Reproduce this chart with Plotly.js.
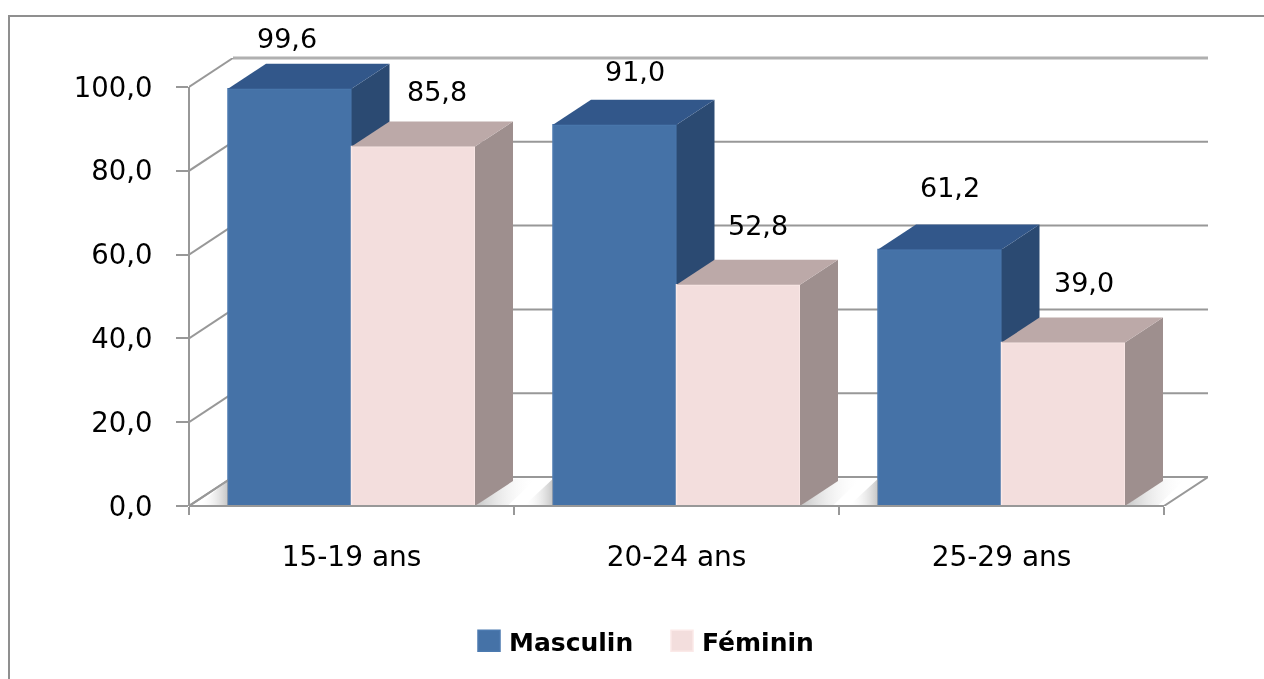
<!DOCTYPE html>
<html><head><meta charset="utf-8">
<script src="https://cdn.plot.ly/plotly-3.0.1.min.js"></script>
<style>html,body{margin:0;padding:0;background:#fff;overflow:hidden}#c{width:1264px;height:679px}.main-svg{filter:blur(.45px)}</style>
</head><body><div id="c"></div>
<script>
const categories=['15-19 ans','20-24 ans','25-29 ans'];
const masculin=[99.6,91.0,61.2];
const feminin=[85.8,52.8,39.0];
const yTicks=[0,20,40,60,80,100];
// styling and geometry, in axis units
const FONT='"DejaVu Sans", sans-serif';
const GRID='#989898';
const plotL=189,plotR=1208,plotT=58,plotB=506;
const catW=325,unitPx=4.19;
const xMin=-0.5,xMax=xMin+(plotR-plotL)/catW;
const yMax=(plotB-plotT)/unitPx;
const wallDx=44/catW,wallDy=29/unitPx;
const barW=0.38,barDx=38/catW,barDy=25/unitPx;
const mColors={front:'#4572A7',edge:'#4C7AB0',top:'#32578A',side:'#2B4A72'};
const fColors={front:'#F3DEDD',edge:'#FBE9E8',top:'#BCA9A8',side:'#9E8F8E'};
const labelDx=[[-3,20,10],[24,20,21]];
const labelDy=[[-50,-53,-62],[-55,-59,-60]];
const fmt=v=>v.toFixed(1).replace('.',',');

function frontBar(name,vals,offset,c,xa){
  return {type:'bar',name,x:categories,y:vals,width:barW,offset,xaxis:xa,yaxis:'y',
    marker:{color:c.front,line:{color:c.edge,width:1.5}},hoverinfo:'skip'};
}
function poly(xs,ys,color,xa){
  return {type:'scatter',mode:'lines',x:xs,y:ys,fill:'toself',fillcolor:color,
    line:{width:0,color:color},xaxis:xa,yaxis:'y',showlegend:false,hoverinfo:'skip'};
}
function faces(vals,offset,c,xa){
  const out=[];
  vals.forEach((v,i)=>{
    const x0=i+offset,x1=x0+barW;
    out.push(poly([x1,x1+barDx,x1+barDx,x1,x1],[0,barDy,v+barDy,v,0],c.side,xa));
    out.push(poly([x0,x0+barDx,x1+barDx,x1,x0],[v,v+barDy,v+barDy,v,v],c.top,xa));
  });
  return out;
}
function shadow(xs,ys,fadeRight){
  const dark='rgba(150,150,150,0.55)',clear='rgba(255,255,255,0)';
  return {type:'scatter',mode:'lines',x:xs,y:ys,fill:'toself',line:{width:0},xaxis:'x2',yaxis:'y',
    showlegend:false,hoverinfo:'skip',
    fillgradient:{type:'horizontal',colorscale:fadeRight?[[0,dark],[1,clear]]:[[0,clear],[1,dark]]}};
}
const shadows=[];
categories.forEach((c,i)=>{
  const xL=i-barW, xR=i+barW;
  shadows.push(shadow([xL-0.09,xL,xL,xL-0.09],[0,0,wallDy-0.4,0],false));
  shadows.push(shadow([xR,xR+0.1,xR+barDx+0.07,xR+barDx,xR],[0,0,wallDy-0.4,wallDy-0.4,0],true));
});
const traces=[
  frontBar('Masculin',masculin,-barW,mColors,'x'),
  ...shadows,
  ...faces(masculin,-barW,mColors,'x2'),
  frontBar('Féminin',feminin,0,fColors,'x3'),
  ...faces(feminin,0,fColors,'x4')
];

const shapes=[];
const pxX=p=>(p-plotL)/(plotR-plotL), pxY=p=>(plotB-p)/(plotB-plotT);
// chart frame
shapes.push({type:'path',xref:'paper',yref:'paper',layer:'below',
  path:`M${pxX(1270)},${pxY(16)}L${pxX(9)},${pxY(16)}L${pxX(9)},${pxY(690)}`,line:{color:'#8f8f8f',width:2}});
// floor
const gl={color:GRID,width:2};
shapes.push({type:'path',xref:'x2',yref:'y',layer:'below',fillcolor:'#ffffff',line:gl,
  path:`M${xMin},0L${xMin+wallDx},${wallDy}L${xMax},${wallDy}L${xMax-wallDx},0Z`});
// back wall grid and left wall diagonals
yTicks.forEach(t=>{
  if(t>0&&t<100) shapes.push({type:'line',xref:'x2',yref:'y',layer:'below',x0:xMin+wallDx,x1:xMax,y0:t+wallDy,y1:t+wallDy,line:gl});
  shapes.push({type:'line',xref:'x2',yref:'y',layer:'below',x0:xMin,x1:xMin+wallDx,y0:t,y1:t+wallDy,line:gl});
});
shapes.push({type:'line',xref:'x2',yref:'paper',layer:'below',x0:xMin+wallDx,x1:xMax,y0:1,y1:1,line:{color:'#b0b0b0',width:3}});
// front axis lines
shapes.push({type:'line',xref:'x2',yref:'paper',layer:'above',x0:xMin,x1:xMax-wallDx,y0:0,y1:0,line:gl});
shapes.push({type:'line',xref:'paper',yref:'y',layer:'below',x0:0,x1:0,y0:0,y1:100,line:gl});

const annotations=[];
[masculin,feminin].forEach((vals,s)=>vals.forEach((v,i)=>{
  annotations.push({xref:'x2',yref:'y',x:i+(s?barW/2:-barW/2),y:v,text:fmt(v),showarrow:false,
    xshift:labelDx[s][i],yshift:-labelDy[s][i],font:{family:FONT,size:27,color:'#000'}});
}));

const catAxis={type:'category',categoryorder:'array',categoryarray:categories,range:[xMin,xMax],fixedrange:true};
const hidden=a=>Object.assign({overlaying:'x',visible:false,range:[xMin,xMax],fixedrange:true},a);
const layout={
  width:1264,height:679,autosize:false,
  margin:{l:plotL,r:1264-plotR,t:plotT,b:679-plotB,pad:0},
  paper_bgcolor:'#fff',plot_bgcolor:'rgba(0,0,0,0)',
  separators:', ',showlegend:true,barmode:'overlay',
  font:{family:FONT,color:'#000'},
  xaxis:Object.assign({},catAxis,{tickson:'boundaries',ticks:'outside',ticklen:8,tickwidth:2,tickcolor:GRID,
    showgrid:false,showline:false,zeroline:false,tickfont:{family:FONT,size:28,color:'#000'},ticklabelstandoff:31}),
  xaxis2:hidden({type:'linear'}),
  xaxis3:hidden({type:'category',categoryorder:'array',categoryarray:categories}),
  xaxis4:hidden({type:'linear'}),
  yaxis:{range:[0,yMax],tickmode:'array',tickvals:yTicks,tickformat:'.1f',ticks:'outside',ticklen:12,tickwidth:2,tickcolor:GRID,
    showgrid:false,showline:false,zeroline:false,tickfont:{family:FONT,size:27.5,color:'#000'},ticklabelstandoff:18,fixedrange:true},
  legend:{orientation:'h',xanchor:'left',yanchor:'middle',x:pxX(469),y:pxY(641),entrywidth:148,entrywidthmode:'pixels',
    font:{family:FONT,size:25,weight:700,color:'#000'},itemwidth:30,bgcolor:'rgba(0,0,0,0)',traceorder:'normal'},
  shapes,annotations
};
Plotly.newPlot('c',traces,layout,{displayModeBar:false,staticPlot:true}).then(()=>{
  document.querySelectorAll('.legendpoints path').forEach(p=>p.setAttribute('d','M11,10.5H-11V-10.5H11Z'));
});
</script></body></html>
